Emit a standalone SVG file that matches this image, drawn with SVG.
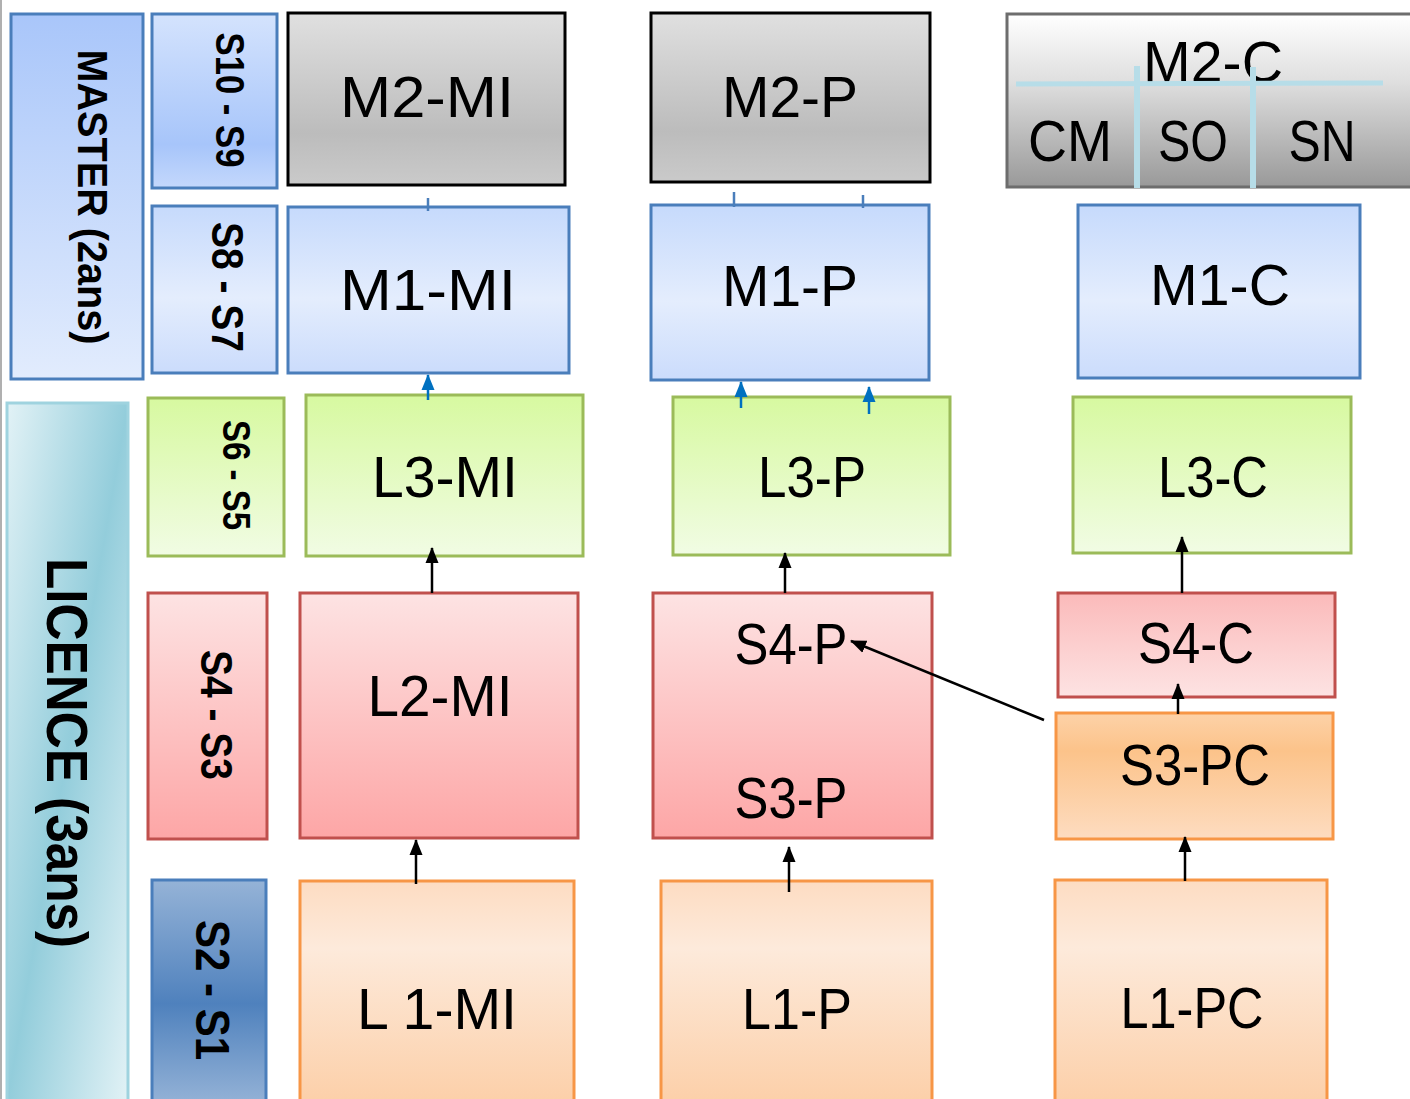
<svg xmlns="http://www.w3.org/2000/svg" width="1410" height="1099" viewBox="0 0 1410 1099">
<defs>
<linearGradient id="gMaster" x1="0" y1="0" x2="0" y2="1"><stop offset="0" stop-color="#a9c6fa"/><stop offset="1" stop-color="#e2ecfd"/></linearGradient>
<linearGradient id="gS109" x1="0" y1="0" x2="0" y2="1"><stop offset="0" stop-color="#d4e3fd"/><stop offset="0.75" stop-color="#a7c5fa"/><stop offset="1" stop-color="#c4d8fc"/></linearGradient>
<linearGradient id="gBlue" x1="0" y1="0" x2="0" y2="1"><stop offset="0" stop-color="#c6dafc"/><stop offset="0.55" stop-color="#e4edfd"/><stop offset="1" stop-color="#cbdcfc"/></linearGradient>
<linearGradient id="gGrey" x1="0" y1="0" x2="0" y2="1"><stop offset="0" stop-color="#e0e0e0"/><stop offset="0.7" stop-color="#bcbcbc"/><stop offset="1" stop-color="#cacaca"/></linearGradient>
<linearGradient id="gM2C" x1="0" y1="0" x2="0" y2="1"><stop offset="0" stop-color="#ffffff"/><stop offset="0.4" stop-color="#dedede"/><stop offset="1" stop-color="#999999"/></linearGradient>
<linearGradient id="gGreen" x1="0" y1="0" x2="0" y2="1"><stop offset="0" stop-color="#d7f9a0"/><stop offset="1" stop-color="#f1fce4"/></linearGradient>
<linearGradient id="gPink" x1="0" y1="0" x2="0" y2="1"><stop offset="0" stop-color="#fde3e3"/><stop offset="1" stop-color="#fda6a6"/></linearGradient>
<linearGradient id="gPinkRev" x1="0" y1="0" x2="0" y2="1"><stop offset="0" stop-color="#fbbaba"/><stop offset="1" stop-color="#fde3e3"/></linearGradient>
<linearGradient id="gOrange" x1="0" y1="0" x2="0" y2="1"><stop offset="0" stop-color="#fddcc2"/><stop offset="0.3" stop-color="#fdeadb"/><stop offset="1" stop-color="#fccfa8"/></linearGradient>
<linearGradient id="gOrange2" x1="0" y1="0" x2="0" y2="1"><stop offset="0" stop-color="#fdd2a8"/><stop offset="0.3" stop-color="#fcc38a"/><stop offset="1" stop-color="#fddcc0"/></linearGradient>
<linearGradient id="gLic" x1="0" y1="0" x2="1" y2="1"><stop offset="0" stop-color="#e2f2f6"/><stop offset="0.5" stop-color="#93cddb"/><stop offset="1" stop-color="#e2f2f6"/></linearGradient>
<linearGradient id="gS21" x1="0" y1="0" x2="0" y2="1"><stop offset="0" stop-color="#95b3d7"/><stop offset="0.55" stop-color="#4f81bd"/><stop offset="1" stop-color="#95b3d7"/></linearGradient>
<marker id="ab" markerUnits="userSpaceOnUse" markerWidth="16" markerHeight="16" viewBox="0 0 16 16" refX="15" refY="8" orient="auto"><path d="M0,1.5 L16,8 L0,14.5 Z" fill="#000"/></marker>
<marker id="au" markerUnits="userSpaceOnUse" markerWidth="16" markerHeight="16" viewBox="0 0 16 16" refX="15" refY="8" orient="auto"><path d="M0,1.5 L16,8 L0,14.5 Z" fill="#0070c0"/></marker>
</defs>
<style>
.bl{stroke:#4a7ebb;stroke-width:3}
.bk{stroke:#000;stroke-width:3}
.gn{stroke:#9bbb59;stroke-width:3}
.rd{stroke:#c0504d;stroke-width:3}
.or{stroke:#f79646;stroke-width:3}
.lb{font-family:"Liberation Sans",Arial,sans-serif;font-size:58px;fill:#000;text-anchor:middle}
.vt{font-family:"Liberation Sans",Arial,sans-serif;font-weight:bold;fill:#000;text-anchor:middle}
.cn{fill:none;stroke:#000;stroke-width:2.5}
.cu{fill:none;stroke:#0070c0;stroke-width:2.5}
.tk{fill:none;stroke:#4a7ebb;stroke-width:2.5}
.gl{fill:none;stroke:#b7dde8}
</style>
<rect width="1410" height="1099" fill="#fff"/>
<line x1="1" y1="0" x2="1" y2="1099" stroke="#b0b0b0" stroke-width="2"/>

<g id="master"><rect x="11" y="14" width="132" height="365" fill="url(#gMaster)" class="bl"/><text class="vt" font-size="42" textLength="295" lengthAdjust="spacingAndGlyphs" transform="translate(78,197) rotate(90)">MASTER (2ans)</text></g>
<g id="s10s9"><rect x="152" y="14" width="125" height="174" fill="url(#gS109)" class="bl"/><text class="vt" font-size="41" textLength="135" lengthAdjust="spacingAndGlyphs" transform="translate(216,100) rotate(90)">S10 - S9</text></g>
<g id="s8s7"><rect x="152" y="206" width="125" height="167" fill="url(#gBlue)" class="bl"/><text class="vt" font-size="44" textLength="130" lengthAdjust="spacingAndGlyphs" transform="translate(212,287) rotate(90)">S8 - S7</text></g>
<g id="licence"><rect x="7" y="403" width="121" height="700" fill="url(#gLic)" stroke="#9fd3df" stroke-width="3"/><text class="vt" font-size="58" textLength="390" lengthAdjust="spacingAndGlyphs" transform="translate(47,753) rotate(90)">LICENCE (3ans)</text></g>
<g id="s6s5"><rect x="148" y="398" width="136" height="158" fill="url(#gGreen)" class="gn"/><text class="vt" font-size="38" textLength="110" lengthAdjust="spacingAndGlyphs" transform="translate(223,475) rotate(90)">S6 - S5</text></g>
<g id="s4s3"><rect x="148" y="593" width="119" height="246" fill="url(#gPink)" class="rd"/><text class="vt" font-size="44" textLength="130" lengthAdjust="spacingAndGlyphs" transform="translate(201,715) rotate(90)">S4 - S3</text></g>
<g id="s2s1"><rect x="152" y="880" width="114" height="225" fill="url(#gS21)" class="bl"/><text class="vt" font-size="48" textLength="140" lengthAdjust="spacingAndGlyphs" transform="translate(196,990) rotate(90)">S2 - S1</text></g>

<g id="m2mi"><rect x="288" y="13" width="277" height="172" fill="url(#gGrey)" class="bk"/><text class="lb" x="427" y="117" textLength="174" lengthAdjust="spacingAndGlyphs">M2-MI</text></g>
<g id="m2p"><rect x="651" y="13" width="279" height="169" fill="url(#gGrey)" class="bk"/><text class="lb" x="790" y="117" textLength="136" lengthAdjust="spacingAndGlyphs">M2-P</text></g>
<g id="m2c"><rect x="1007" y="14" width="410" height="173" fill="url(#gM2C)" stroke="#6d6d6d" stroke-width="3"/>
<text class="lb" x="1213" y="82" textLength="140" lengthAdjust="spacingAndGlyphs">M2-C</text>
<text class="lb" x="1070" y="161" textLength="84" lengthAdjust="spacingAndGlyphs">CM</text>
<text class="lb" x="1193" y="161" textLength="70" lengthAdjust="spacingAndGlyphs">SO</text>
<text class="lb" x="1322" y="161" textLength="67" lengthAdjust="spacingAndGlyphs">SN</text>
<line class="gl" x1="1016" y1="84" x2="1383" y2="83" stroke-width="5"/>
<line class="gl" x1="1137" y1="66" x2="1137" y2="188" stroke-width="6"/>
<line class="gl" x1="1253" y1="67" x2="1253" y2="188" stroke-width="6"/>
</g>
<g id="m1mi"><rect x="288" y="207" width="281" height="166" fill="url(#gBlue)" class="bl"/><text class="lb" x="428" y="310" textLength="176" lengthAdjust="spacingAndGlyphs">M1-MI</text></g>
<g id="m1p"><rect x="651" y="205" width="278" height="175" fill="url(#gBlue)" class="bl"/><text class="lb" x="790" y="306" textLength="136" lengthAdjust="spacingAndGlyphs">M1-P</text></g>
<g id="m1c"><rect x="1078" y="205" width="282" height="173" fill="url(#gBlue)" class="bl"/><text class="lb" x="1220" y="305" textLength="140" lengthAdjust="spacingAndGlyphs">M1-C</text></g>
<g id="l3mi"><rect x="306" y="395" width="277" height="161" fill="url(#gGreen)" class="gn"/><text class="lb" x="445" y="497" textLength="146" lengthAdjust="spacingAndGlyphs">L3-MI</text></g>
<g id="l3p"><rect x="673" y="397" width="277" height="158" fill="url(#gGreen)" class="gn"/><text class="lb" x="812" y="497" textLength="108" lengthAdjust="spacingAndGlyphs">L3-P</text></g>
<g id="l3c"><rect x="1073" y="397" width="278" height="156" fill="url(#gGreen)" class="gn"/><text class="lb" x="1213" y="497" textLength="110" lengthAdjust="spacingAndGlyphs">L3-C</text></g>
<g id="l2mi"><rect x="300" y="593" width="278" height="245" fill="url(#gPink)" class="rd"/><text class="lb" x="440" y="716" textLength="145" lengthAdjust="spacingAndGlyphs">L2-MI</text></g>
<g id="s4p"><rect x="653" y="593" width="279" height="245" fill="url(#gPink)" class="rd"/><text class="lb" x="791" y="664" textLength="113" lengthAdjust="spacingAndGlyphs">S4-P</text><text class="lb" x="791" y="818" textLength="113" lengthAdjust="spacingAndGlyphs">S3-P</text></g>
<g id="s4c"><rect x="1058" y="593" width="277" height="104" fill="url(#gPinkRev)" class="rd"/><text class="lb" x="1196" y="663" textLength="116" lengthAdjust="spacingAndGlyphs">S4-C</text></g>
<g id="s3pc"><rect x="1056" y="713" width="277" height="126" fill="url(#gOrange2)" class="or"/><text class="lb" x="1195" y="785" textLength="150" lengthAdjust="spacingAndGlyphs">S3-PC</text></g>
<g id="l1mi"><rect x="300" y="881" width="274" height="224" fill="url(#gOrange)" class="or"/><text class="lb" x="437" y="1029" textLength="160" lengthAdjust="spacingAndGlyphs">L 1-MI</text></g>
<g id="l1p"><rect x="661" y="881" width="271" height="224" fill="url(#gOrange)" class="or"/><text class="lb" x="797" y="1029" textLength="110" lengthAdjust="spacingAndGlyphs">L1-P</text></g>
<g id="l1pc"><rect x="1055" y="880" width="272" height="225" fill="url(#gOrange)" class="or"/><text class="lb" x="1192" y="1028" textLength="143" lengthAdjust="spacingAndGlyphs">L1-PC</text></g>

<g id="connectors">
<line class="tk" x1="428" y1="198" x2="428" y2="211"/>
<line class="tk" x1="734" y1="192" x2="734" y2="207"/>
<line class="tk" x1="863" y1="195" x2="863" y2="208"/>
<line class="cu" x1="428" y1="400" x2="428" y2="375" marker-end="url(#au)"/>
<line class="cu" x1="741" y1="408" x2="741" y2="382" marker-end="url(#au)"/>
<line class="cu" x1="869" y1="414" x2="869" y2="387" marker-end="url(#au)"/>
<line class="cn" x1="432" y1="593" x2="432" y2="548" marker-end="url(#ab)"/>
<line class="cn" x1="785" y1="593" x2="785" y2="553" marker-end="url(#ab)"/>
<line class="cn" x1="1182" y1="593" x2="1182" y2="537" marker-end="url(#ab)"/>
<line class="cn" x1="1178" y1="714" x2="1178" y2="684" marker-end="url(#ab)"/>
<line class="cn" x1="1044" y1="720" x2="851" y2="641" marker-end="url(#ab)"/>
<line class="cn" x1="416" y1="884" x2="416" y2="840" marker-end="url(#ab)"/>
<line class="cn" x1="789" y1="892" x2="789" y2="847" marker-end="url(#ab)"/>
<line class="cn" x1="1185" y1="881" x2="1185" y2="837" marker-end="url(#ab)"/>
</g>
</svg>
